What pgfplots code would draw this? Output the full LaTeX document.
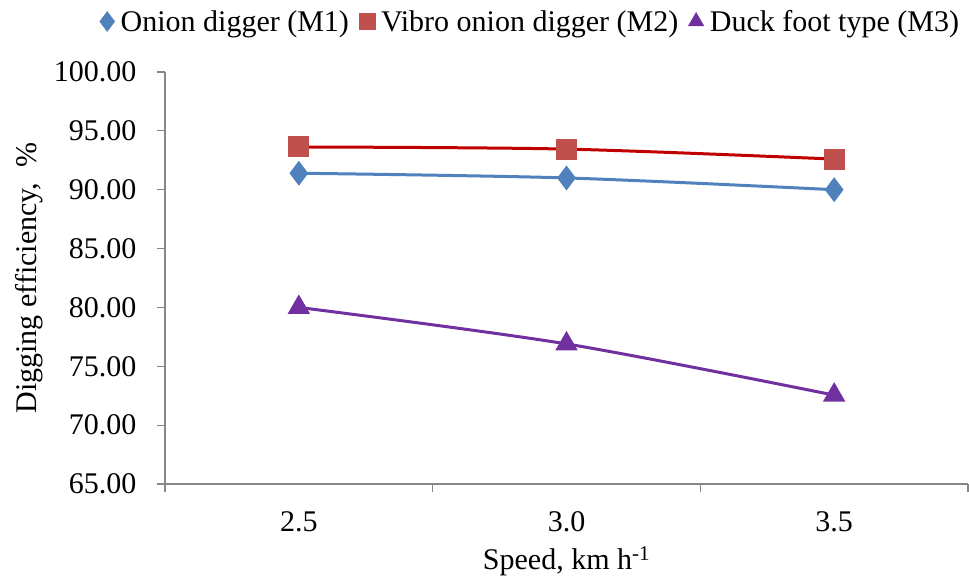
\documentclass[border=0pt]{standalone}
\usepackage{pgfplots}
\pgfplotsset{compat=1.18}
\usepackage{fontspec}
\setmainfont{Liberation Serif}
\definecolor{cMone}{HTML}{4F81BD}
\definecolor{cMtwo}{HTML}{C0504D}
\definecolor{lMtwo}{HTML}{C00000}
\definecolor{cMthree}{HTML}{7030A0}
\definecolor{axgray}{HTML}{878787}
\begin{document}
\begin{tikzpicture}
\begin{axis}[
  scale only axis,
  width=803pt, height=412pt,
  xmin=-0.5, xmax=2.5,
  ymin=65, ymax=100,
  ytick={65,70,...,100},
  xtick={0,1,2},
  xticklabels={2.5,3.0,3.5},
  minor xtick={-0.5,0.5,1.5,2.5},
  major x tick style={draw=none},
  minor tick length=8pt,
  major tick length=8pt,
  tick align=outside,
  tick style={axgray, line width=1.2pt},
  axis x line*=bottom,
  axis y line*=left,
  axis line style={axgray, line width=1.5pt, -},
  font=\fontsize{30}{34}\selectfont,
  /pgf/number format/assume math mode=true,
  yticklabel={\pgfmathprintnumber[fixed,fixed zerofill,precision=2]{\tick}},
  yticklabel style={xshift=-17pt},
  xticklabel style={yshift=-16pt},
  xlabel={Speed, km h\textsuperscript{-1}},
  ylabel={Digging efficiency,\ \ \%},
  xlabel style={yshift=-8pt},
  ylabel style={yshift=4pt},
  legend style={draw=none, at={(0.455,1.0)}, anchor=south, yshift=37pt,
    font=\fontsize{30}{34}\selectfont, column sep=4pt, inner sep=0pt,
    /tikz/every even column/.append style={column sep=8pt}},
  legend columns=3,
  legend cell align=left,
  clip=false,
]
\path[draw=none] (rel axis cs:0,0) ++(-165pt,-93pt) -- ++(0pt,0pt);
\path[draw=none] (rel axis cs:1,1) ++(1pt,72pt) -- ++(0pt,0pt);
\addplot[lMtwo, line width=3pt, smooth, forget plot, mark=square*, mark size=9pt,
  mark options={fill=cMtwo, draw=cMtwo}]
  coordinates {(0,93.63) (1,93.45) (2,92.6)};
\addplot[cMone, line width=3pt, smooth, forget plot, mark=diamond*, mark size=10pt,
  mark options={fill=cMone, draw=cMone}]
  coordinates {(0,91.4) (1,91.0) (2,90.0)};
\addplot[cMthree, line width=3pt, smooth, forget plot, mark=triangle*, mark size=10pt,
  mark options={fill=cMthree, draw=cMthree}]
  coordinates {(0,80.0) (1,76.9) (2,72.55)};
\addlegendimage{only marks, mark=diamond*, mark size=10pt, cMone, mark options={fill=cMone, draw=cMone}}
\addlegendentry{Onion digger (M1)}
\addlegendimage{only marks, mark=square*, mark size=8pt, cMtwo, mark options={fill=cMtwo, draw=cMtwo}}
\addlegendentry{Vibro onion digger (M2)}
\addlegendimage{only marks, mark=triangle*, mark size=9pt, cMthree, mark options={fill=cMthree, draw=cMthree}}
\addlegendentry{Duck foot type (M3)}
\end{axis}
\end{tikzpicture}
\end{document}
